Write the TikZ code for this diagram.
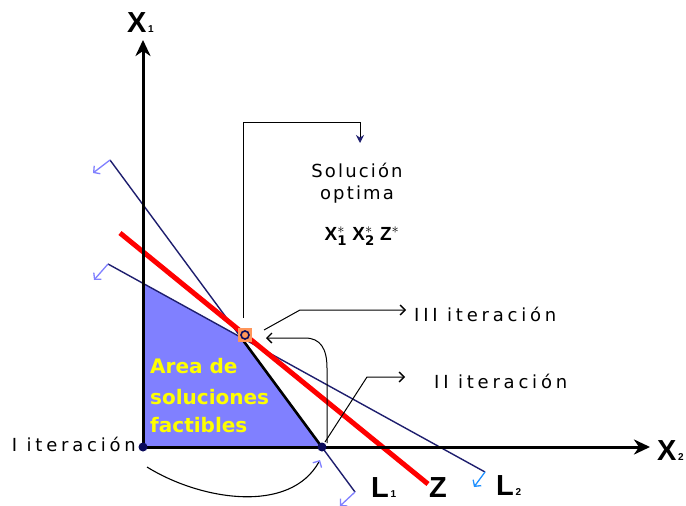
\documentclass[tikz,border=0pt]{standalone}
\usepackage{fontspec}
\setmainfont{DejaVu Sans}
\newfontfamily\annfont[LetterSpace=12]{DejaVu Sans}
\newfontfamily\iterfont[LetterSpace=21]{DejaVu Sans}
\newfontfamily\lblfont{Liberation Sans}
\usetikzlibrary{arrows.meta}
\definecolor{navyline}{RGB}{30,30,110}
\definecolor{regionfill}{RGB}{128,128,255}
\definecolor{dirblue}{RGB}{128,128,255}
\definecolor{brightblue}{RGB}{30,144,255}
\definecolor{zred}{RGB}{255,0,0}
\definecolor{markorange}{RGB}{255,150,90}
\definecolor{dotnavy}{RGB}{10,10,90}
\definecolor{areayellow}{RGB}{255,255,0}
\newcommand{\subfig}[1]{{\lblfont\bfseries\fontsize{10}{10}\selectfont\,#1}}
\begin{document}
\begin{tikzpicture}[x=1pt,y=-1pt,
  axis/.style={line width=3pt, -{Stealth[length=16pt,width=15pt,inset=5pt]}},
  cline/.style={line width=1.4pt, navyline},
  zline/.style={line width=5pt, zred},
  edge/.style={line width=2.6pt, black},
  ann/.style={line width=1pt, black, -{Straight Barb[length=5pt,width=10pt,line width=1.3pt]}},
  dirarrow/.style={line width=1.3pt, dirblue, -{Straight Barb[length=4.5pt,width=10pt]}},
  anntext/.style={font=\annfont\fontsize{18}{20}\selectfont, inner sep=0pt},
  itertext/.style={font=\iterfont\fontsize{18}{20}\selectfont, inner sep=0pt},
  areatext/.style={font=\bfseries\fontsize{20}{24}\selectfont, text=areayellow, inner sep=0pt, anchor=base west},
  biglbl/.style={font=\lblfont\bfseries\fontsize{29}{30}\selectfont, inner sep=0pt, anchor=base west},
  dot/.style={circle, fill=dotnavy, inner sep=0pt, minimum size=9pt},
]
\useasboundingbox (0,0) rectangle (686,506);
\fill[white] (0,0) rectangle (686,506);

% geometry
\coordinate (O) at (143,447);
\coordinate (Ytip) at (143,40);
\coordinate (Xtip) at (650,447);
\coordinate (L1a) at (110,160);
\coordinate (L1b) at (355,492);
\coordinate (L2a) at (108,264);
\coordinate (L2b) at (485,472);
\coordinate (Za) at (120,233);
\coordinate (Zb) at (428,484);
\coordinate (A) at (intersection of L1a--L1b and O--Xtip);
\coordinate (B) at (intersection of L2a--L2b and O--Ytip);
\coordinate (P) at (intersection of L1a--L1b and L2a--L2b);

% feasible region
\fill[regionfill] (O) -- (B) -- (P) -- (A) -- cycle;

% constraint lines
\draw[cline] (L2a) -- (L2b);
\draw[cline] (L1a) -- (L1b);
\draw[edge] (P) -- (A);

% direction arrows
\coordinate (L1ad) at (93,173);
\coordinate (L2ad) at (94,280);
\coordinate (L1bd) at (340,506);
\coordinate (L2bd) at (474,487);
\draw[dirarrow] (L1a) -- (L1ad);
\draw[dirarrow] (L2a) -- (L2ad);
\draw[dirarrow] (L1b) -- (L1bd);
\draw[dirarrow, brightblue] (L2b) -- (L2bd);

% objective line
\draw[zline] (Za) -- (Zb);

% axes
\draw[axis] (O) -- (Ytip);
\draw[axis] (O) -- (Xtip);

% region text
\node[areatext] (area1) at (150,373) {Area de};
\node[areatext] (area2) at (150,404) {soluciones};
\node[areatext] (area3) at (150,432) {factibles};

% optimum marker and vertices
\node[fill=markorange, minimum size=14pt, inner sep=0pt] (opt) at (245,335) {};
\node[circle, draw=dotnavy, line width=1.6pt, minimum size=8pt, inner sep=0pt] (optc) at (opt) {};
\node[dot] (dO) at (O) {};
\node[dot] (dA) at (322,447) {};

% annotation: solution
\coordinate (s0) at (243,318);
\coordinate (s1) at (243,122);
\coordinate (s2) at (360,122);
\coordinate (s3) at (360,143);
\draw[line width=1pt, -{Stealth[length=8pt,width=8pt,color=navyline]}] (s0) -- (s1) -- (s2) -- (s3);
\node[anntext, anchor=base] (sol1) at (357,177) {Solución};
\node[anntext, anchor=base] (sol2) at (357,199) {optima};
\node[font=\lblfont\bfseries\fontsize{19}{20}\selectfont, inner sep=0pt, anchor=base] (sol3) at (362,240)
  {X$^{\mathbf{*}}_{\mathbf{1}}$ X$^{\mathbf{*}}_{\mathbf{2}}$ Z$^{\mathbf{*}}$};

% III iteration
\coordinate (t0) at (264,330);
\coordinate (t1) at (300,310);
\coordinate (t2) at (406,310);
\draw[ann] (t0) -- (t1) -- (t2);
\node[itertext, anchor=base west] (iii) at (414,321) {III iteración};

% curved arrow from A to optimum
\coordinate (c0) at (327,443);
\coordinate (c1) at (327,368);
\coordinate (c2) at (305,338);
\coordinate (c3) at (266,338);
\draw[ann] (c0) -- (c1) .. controls (327,348) and (320,338) .. (c2) -- (c3);

% II iteration
\coordinate (d0) at (325,442);
\coordinate (d1) at (367,377);
\coordinate (d2) at (405,377);
\draw[ann] (d0) -- (d1) -- (d2);
\node[itertext, anchor=base west] (ii) at (434,388) {II iteración};

% I iteration
\node[itertext, anchor=base east] (i) at (136,451) {I iteración};
\coordinate (e0) at (147,467);
\coordinate (e1) at (320,460);
\draw[line width=1.1pt, -{Straight Barb[length=5pt,width=10pt,line width=1.3pt,color=dirblue]}] (e0) .. controls (200,500) and (290,515) .. (e1);

% labels
\node[biglbl] (x1) at (127,32) {X\subfig{1}};
\node[biglbl] (x2) at (657,460) {X\subfig{2}};
\node[biglbl] (l1) at (371,497) {L\subfig{1}};
\node[biglbl] (z) at (429,497) {Z};
\node[biglbl] (l2) at (496,495) {L\subfig{2}};
\end{tikzpicture}
\end{document}
